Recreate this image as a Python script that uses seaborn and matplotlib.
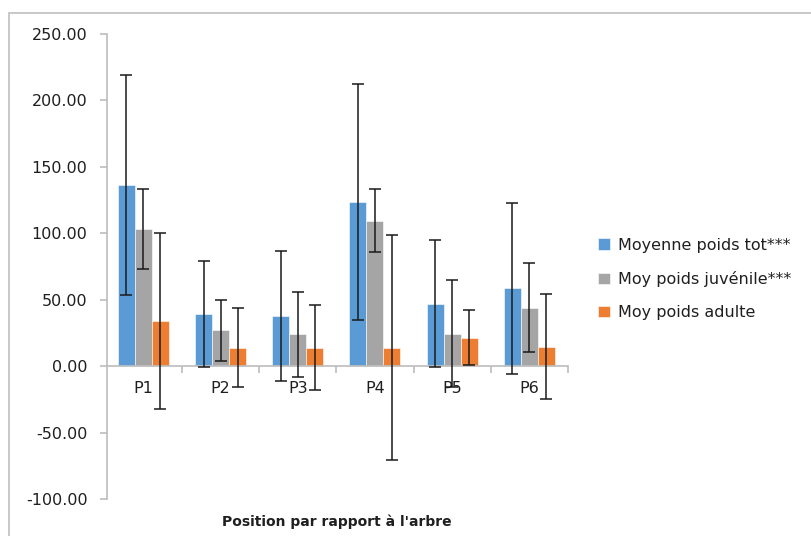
import matplotlib
matplotlib.use('Agg')
import matplotlib.pyplot as plt
from matplotlib.patches import Rectangle
import numpy as np
import pandas as pd
import seaborn as sns

sns.set_theme(style='white')
plt.rcParams['font.family'] = ['DejaVu Sans']

# ---- data ----
positions = ['P1', 'P2', 'P3', 'P4', 'P5', 'P6']
series = ['Moyenne poids tot***', 'Moy poids juvénile***', 'Moy poids adulte']
poids_tot = [136.5, 39.5, 38.0, 123.5, 47.0, 58.5]
poids_tot_err = [83.0, 40.0, 49.0, 89.0, 48.0, 64.5]
poids_juv = [103.0, 27.0, 24.0, 109.5, 24.5, 44.0]
poids_juv_err = [30.0, 23.0, 32.0, 23.5, 40.0, 33.5]
poids_adu = [34.0, 14.0, 14.0, 14.0, 21.5, 14.5]
poids_adu_err = [66.0, 30.0, 32.0, 85.0, 20.5, 39.5]

colors = ['#5B9BD5', '#A5A5A5', '#ED7D31']
text_col = '#1f1f1f'
axis_col = '#BFBFBF'

df = pd.DataFrame({
    'position': positions * 3,
    'serie': np.repeat(series, len(positions)),
    'poids': poids_tot + poids_juv + poids_adu,
})
errs = [poids_tot_err, poids_juv_err, poids_adu_err]

fig = plt.figure(figsize=(8.11, 5.36), dpi=100)
ax = fig.add_axes([107 / 811, 1 - 499 / 536, 461 / 811, 465 / 536])

sns.barplot(data=df, x='position', y='poids', hue='serie', order=positions,
            hue_order=series, palette=colors, errorbar=None, width=0.66,
            gap=0, saturation=1, edgecolor='white', linewidth=0.4, ax=ax)

# error bars on each bar
for cont, err in zip(ax.containers, errs):
    xs = [b.get_x() + b.get_width() / 2 for b in cont]
    ys = [b.get_height() for b in cont]
    ax.errorbar(xs, ys, yerr=err, fmt='none', ecolor='#1a1a1a', elinewidth=1.1,
                capsize=4, capthick=1.1, zorder=5)

ax.set_xlim(-0.47, 5.5)
ax.set_ylim(-100, 250)
ax.set_yticks(np.arange(-100, 251, 50))
ax.yaxis.set_major_formatter(matplotlib.ticker.FormatStrFormatter('%.2f'))

for s in ['top', 'right']:
    ax.spines[s].set_visible(False)
ax.spines['left'].set_color(axis_col)
ax.spines['bottom'].set_color(axis_col)
ax.spines['bottom'].set_position(('data', 0))

# category labels on minor ticks, boundary marks on major ticks
ax.set_xticks(np.arange(0.5, 6, 1))
ax.set_xticklabels([''] * 6)
ax.set_xticks(np.arange(len(positions)), minor=True)
ax.set_xticklabels(positions, minor=True)
ax.tick_params(axis='x', which='major', direction='out', length=5, color=axis_col, bottom=True)
ax.tick_params(axis='x', which='minor', length=0, pad=11, labelsize=11.5, labelcolor=text_col, bottom=True)
ax.tick_params(axis='y', direction='out', length=5, color=axis_col, pad=9,
               labelsize=11.5, labelcolor=text_col, left=True)

ax.set_ylabel('')
ax.set_xlabel("Position par rapport à l'arbre", fontsize=10, fontweight='bold', color=text_col)
ax.xaxis.set_label_coords(0.499, -0.034)

ax.legend(loc='center left', bbox_to_anchor=(584 / 811, 1 - 279 / 536),
          bbox_transform=fig.transFigure, frameon=False, fontsize=11.5,
          handlelength=0.7, handleheight=0.7, handletextpad=0.5, labelspacing=1.15,
          labelcolor=text_col)

# outer chart frame
fig.patches.append(Rectangle((9 / 811, -0.05), 1.1, 1.05 - 13 / 536,
                             transform=fig.transFigure, fill=False,
                             edgecolor='#BFBFBF', linewidth=1.2))

fig.savefig('out.png', dpi=100)
